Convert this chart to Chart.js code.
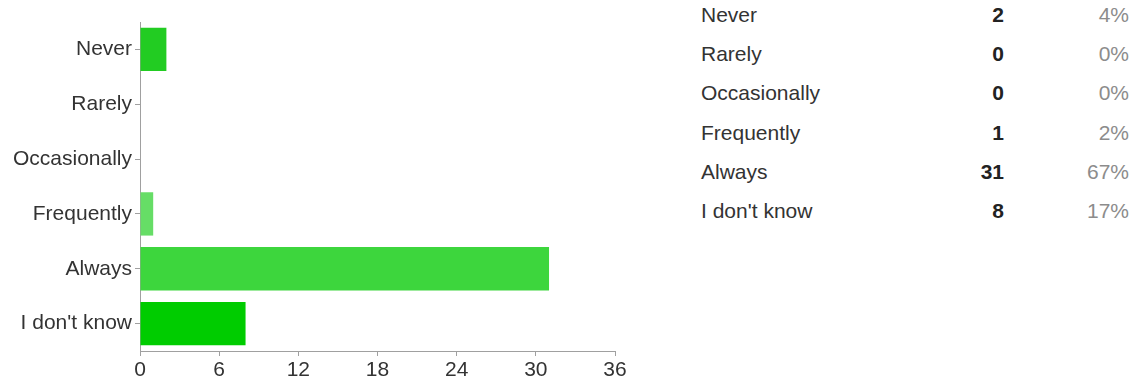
<!DOCTYPE html>
<html>
<head>
<meta charset="utf-8">
<script src="https://cdn.jsdelivr.net/npm/chart.js@4/dist/chart.umd.min.js"></script>
<style>
  body { margin: 0; background: #fff; width: 1138px; height: 381px; overflow: hidden; position: relative; }
  #chartBox { position: absolute; left: 0; top: 0; width: 650px; height: 381px; }
  #summary { position: absolute; left: 701px; top: 0; font-family: "Liberation Sans", Arial, sans-serif; font-size: 21px; }
  .row { position: absolute; left: 0; height: 39px; line-height: 39px; width: 428px; white-space: nowrap; }
  .row .label { position: absolute; left: 0; color: #333; }
  .row .count { position: absolute; right: 125px; color: #222; font-weight: bold; }
  .row .pct { position: absolute; right: 0; color: #8c8c8c; }
</style>
</head>
<body>
<div id="chartBox"><canvas id="answers" width="650" height="381"></canvas></div>
<div id="summary"></div>
<script>
// Answer options and how many people picked each one
const answers = ['Never', 'Rarely', 'Occasionally', 'Frequently', 'Always', "I don't know"];
const counts = [2, 0, 0, 1, 31, 8];
const percents = ['4%', '0%', '0%', '2%', '67%', '17%'];
const barColors = ['#22cc22', '#33cc33', '#33cc33', '#66dd66', '#3dd63d', '#00cc00'];
const xTicks = [0, 6, 12, 18, 24, 30, 36];

const labelFont = { family: '"Liberation Sans", Arial, sans-serif', size: 21 };

// Summary table on the right
const summary = document.getElementById('summary');
answers.forEach((answer, i) => {
  const row = document.createElement('div');
  row.className = 'row';
  row.style.top = (-5 + i * 39.2) + 'px';
  row.innerHTML = `<span class="label"></span><span class="count">${counts[i]}</span><span class="pct">${percents[i]}</span>`;
  row.querySelector('.label').textContent = answer;
  summary.appendChild(row);
});

// Horizontal bar chart
const ctx = document.getElementById('answers').getContext('2d');
new Chart(ctx, {
  type: 'bar',
  data: {
    labels: answers,
    datasets: [{
      data: counts,
      backgroundColor: barColors,
      borderWidth: 0,
      categoryPercentage: 0.79,
      barPercentage: 1
    }]
  },
  options: {
    indexAxis: 'y',
    responsive: false,
    animation: false,
    layout: { padding: { top: 22, right: 35, bottom: 0, left: 0 } },
    plugins: { legend: { display: false }, tooltip: { enabled: false } },
    scales: {
      x: {
        min: 0,
        max: 36,
        afterBuildTicks: (scale) => { scale.ticks = xTicks.map(v => ({ value: v })); },
        afterFit: (scale) => { scale.height = 30; },
        border: { color: '#a0a0a0', width: 1 },
        grid: { drawOnChartArea: false, drawTicks: true, tickLength: 5, color: '#a0a0a0' },
        ticks: { color: '#333', font: labelFont, padding: 2 }
      },
      y: {
        afterFit: (scale) => { scale.width = 140; },
        border: { color: '#a0a0a0', width: 1 },
        grid: { offset: false, drawOnChartArea: false, drawTicks: true, tickLength: 5, color: '#a0a0a0' },
        ticks: { color: '#333', font: labelFont, padding: 3 }
      }
    }
  }
});
</script>
</body>
</html>
